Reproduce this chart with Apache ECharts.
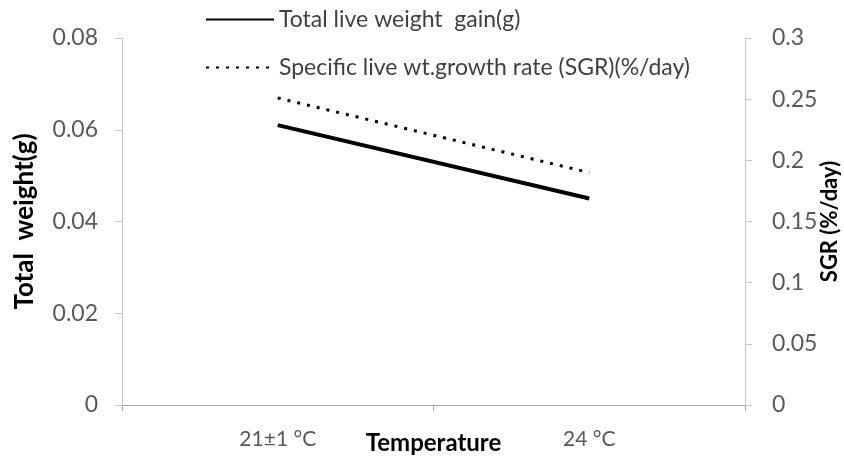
<!DOCTYPE html>
<html>
<head>
<meta charset="utf-8">
<script src="https://cdn.jsdelivr.net/npm/echarts@6/dist/echarts.min.js"></script>
<style>
  html, body { margin: 0; padding: 0; background: #fff; }
  #chart { width: 844px; height: 459px; }
</style>
</head>
<body>
<div id="chart"></div>
<script>
// data
var categories = ['21±1 °C', '24 °C']
var weightGain = [0.061, 0.045]
var sgr = [0.251, 0.19]
var seriesNames = ['Total live weight  gain(g)', 'Specific live wt.growth rate (SGR)(%/day)']

var font = 'Lato'
var axisColor = '#a6a6a6'
var labelColor = '#595959'

var myChart = echarts.init(document.getElementById('chart'))

myChart.setOption({
    animation: false,
    textStyle: { fontFamily: font },
    grid: { left: 122, right: 99, top: 38, bottom: 54, containLabel: false, outerBoundsMode: 'none' },
    legend: {
        orient: 'vertical',
        left: 200,
        top: 3,
        itemWidth: 68,
        itemHeight: 14,
        itemGap: 25,
        itemStyle: { opacity: 0 },
        textStyle: { fontFamily: font, fontSize: 23, color: '#404040' },
        data: seriesNames
    },
    xAxis: {
        type: 'category',
        data: categories,
        boundaryGap: true,
        name: 'Temperature',
        nameLocation: 'middle',
        nameGap: 26,
        nameMoveOverlap: false,
        nameTextStyle: { fontFamily: font, fontSize: 24, fontWeight: 'bold', color: '#000' },
        axisLine: { lineStyle: { color: axisColor, width: 1 } },
        axisTick: { show: true, length: 6, lineStyle: { color: axisColor } },
        axisLabel: { margin: 24, fontSize: 21, color: labelColor }
    },
    yAxis: [
        {
            type: 'value',
            min: 0,
            max: 0.08,
            interval: 0.02,
            name: 'Total  weight(g)',
            nameLocation: 'middle',
            nameGap: 84,
            nameMoveOverlap: false,
            nameTextStyle: { fontFamily: font, fontSize: 26, fontWeight: 'bold', color: '#000' },
            splitLine: { show: false },
            axisLine: { show: true, lineStyle: { color: '#c8c8c8', width: 1 } },
            axisTick: { show: true, length: 7, lineStyle: { color: '#c8c8c8' } },
            axisLabel: { margin: 24, fontSize: 23, color: labelColor }
        },
        {
            type: 'value',
            min: 0,
            max: 0.3,
            interval: 0.05,
            name: 'SGR (%/day)',
            nameLocation: 'middle',
            nameGap: 74,
            nameRotate: 90,
            nameMoveOverlap: false,
            nameTextStyle: { fontFamily: font, fontSize: 22, fontWeight: 'bold', color: '#000' },
            splitLine: { show: false },
            axisLine: { show: true, lineStyle: { color: '#c8c8c8', width: 1 } },
            axisTick: { show: true, length: 7, lineStyle: { color: '#c8c8c8' } },
            axisLabel: { margin: 27, fontSize: 23, color: labelColor }
        }
    ],
    series: [
        {
            name: seriesNames[0],
            type: 'line',
            yAxisIndex: 0,
            data: weightGain,
            symbol: 'none',
            itemStyle: { color: '#000' },
            lineStyle: { color: '#000', width: 4 }
        },
        {
            name: seriesNames[1],
            type: 'line',
            yAxisIndex: 1,
            data: sgr,
            symbol: 'none',
            itemStyle: { color: '#000' },
            lineStyle: { color: '#000', width: 3, type: [3, 7] }
        }
    ]
})
</script>
</body>
</html>
